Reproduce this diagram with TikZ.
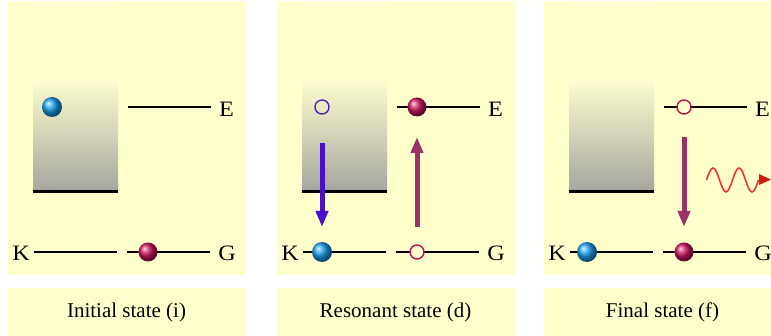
\documentclass[tikz,border=0pt]{standalone}
\usepackage{fontspec}
\setmainfont{Liberation Serif}
\usetikzlibrary{arrows.meta,shadings}
\definecolor{bg}{RGB}{255,255,204}
\definecolor{bandtop}{RGB}{255,255,208}
\definecolor{bandgray}{RGB}{166,166,160}
\definecolor{bluearrow}{RGB}{74,16,200}
\definecolor{purplearrow}{RGB}{153,51,102}
\definecolor{redhole}{RGB}{192,16,72}
\definecolor{bluehole}{RGB}{80,32,192}
\definecolor{wavecol}{RGB}{238,51,51}
\definecolor{wavehead}{RGB}{210,30,10}
\definecolor{ballblue}{RGB}{25,160,240}
\definecolor{ballred}{RGB}{205,20,95}
\tikzset{
  panelbox/.style={fill=bg, draw=none},
  level/.style={line width=1.3pt, black},
  edge/.style={line width=3pt, black},
  blueball/.style={circle, minimum size=20pt, inner sep=0pt, ball color=ballblue},
  redball/.style={circle, minimum size=19pt, inner sep=0pt, ball color=ballred},
  holebox/.style={circle, draw, line width=1.4pt, minimum size=14pt, inner sep=0pt},
  lbl/.style={font=\fontsize{22}{26}\selectfont, inner sep=0pt, xscale=1.1},
  caption/.style={font=\fontsize{21}{25}\selectfont, inner sep=0pt},
  bigarrow/.style={line width=5pt, -{Triangle[length=16pt,width=12pt]}},
}
\newcommand{\bandpanel}{%
  \fill[panelbox] (8,1) rectangle (245.5,275);
  \fill[panelbox] (8,288) rectangle (245.5,336);
  \fill[bandtop] (33,1) rectangle (118,78);
  \shade[top color=bandtop, bottom color=bandgray] (33,78) rectangle (118,191);
  \draw[edge] (33,192) -- (118,192);
  \coordinate (eL) at (128,107);
  \coordinate (eR) at (211,107);
  \coordinate (kA) at (34,252);
  \coordinate (kB) at (117,252);
  \coordinate (gA) at (127,252);
  \coordinate (gB) at (210,252);
  \draw[level] (eL) -- (eR);
  \draw[level] (kA) -- (kB);
  \draw[level] (gA) -- (gB);
  \node[lbl] (E) at (226.5,109) {E};
  \node[lbl] (K) at (21,253) {K};
  \node[lbl] (G) at (227,253) {G};
}
\begin{document}
\begin{tikzpicture}[x=1pt,y=-1pt]
\useasboundingbox (0,0) rectangle (771,336);
% panel 1
\begin{scope}
  \bandpanel
  \node[caption] (c1) at (126.5,312) {Initial state (i)};
  \node[blueball] (b1) at (52,107) {};
  \node[redball] (r1) at (148,252) {};
\end{scope}
% panel 2
\begin{scope}[xshift=269pt]
  \bandpanel
  \node[caption] (c2) at (126.5,312) {Resonant state (d)};
  \node[holebox, draw=bluehole] (h2) at (53,107) {};
  \node[redball] (r2) at (148,107) {};
  \node[blueball] (b2) at (53,252) {};
  \node[holebox, draw=redhole, fill=bg] (h2g) at (148,252) {};
  \coordinate (a2s) at (53,143);
  \coordinate (a2e) at (53,227);
  \coordinate (p2s) at (148,227);
  \coordinate (p2e) at (148,137);
  \draw[bigarrow, bluearrow] (a2s) -- (a2e);
  \draw[bigarrow, purplearrow] (p2s) -- (p2e);
\end{scope}
% panel 3
\begin{scope}[xshift=536pt]
  \bandpanel
  \node[caption] (c3) at (126.5,312) {Final state (f)};
  \node[holebox, draw=redhole, fill=bg] (h3) at (148,107) {};
  \node[blueball] (b3) at (51,252) {};
  \node[redball] (r3) at (148,252) {};
  \coordinate (p3s) at (148,137);
  \coordinate (p3e) at (148,227);
  \draw[bigarrow, purplearrow] (p3s) -- (p3e);
\end{scope}
% emitted photon
\coordinate (w0) at (706.5,180);
\draw[wavecol, line width=1.6pt] (w0) sin (713,168) cos (719.5,180) sin (726,192) cos (732.5,180)
  sin (739,168) cos (745.5,180) sin (752,192) cos (758.5,180);
\fill[wavehead] (759,174) -- (771,179.5) -- (759,185) -- cycle;
\end{tikzpicture}
\end{document}
